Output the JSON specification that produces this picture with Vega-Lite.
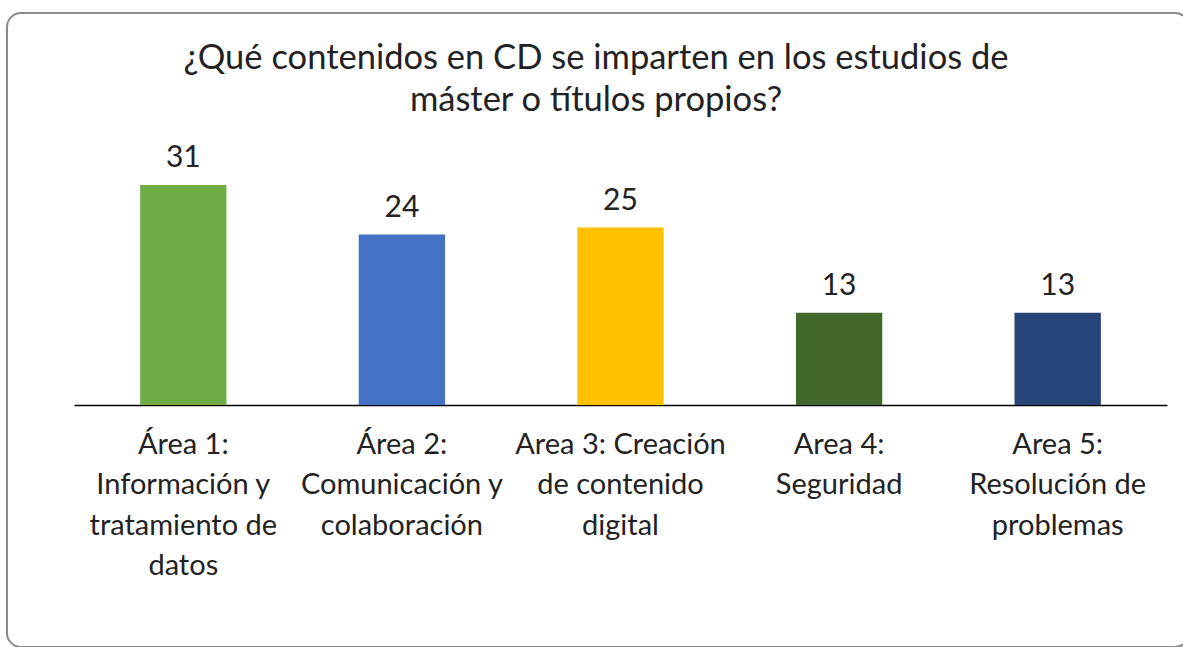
{
  "$schema": "https://vega.github.io/schema/vega-lite/v6.json",
  "width": 1182,
  "height": 634,
  "autosize": "none",
  "padding": {"left": 7, "top": 13, "right": 0, "bottom": 0},
  "background": "white",
  "config": {
    "view": {"stroke": "#8a8a8a", "strokeWidth": 2, "cornerRadius": 14},
    "font": "Lato"
  },
  "title": {
    "text": ["¿Qué contenidos en CD se imparten en los estudios de", "máster o títulos propios?"],
    "font": "Lato",
    "fontSize": 34.5,
    "fontWeight": "normal",
    "color": "#222222",
    "anchor": "middle",
    "frame": "group",
    "baseline": "top",
    "offset": 0,
    "dy": 105,
    "dx": -2,
    "lineHeight": 42
  },
  "data": {
    "values": [
      {"area": "Área 1:|Información y|tratamiento de|datos", "valor": 31},
      {"area": "Área 2:|Comunicación y|colaboración", "valor": 24},
      {"area": "Area 3: Creación|de contenido|digital", "valor": 25},
      {"area": "Area 4:|Seguridad", "valor": 13},
      {"area": "Area 5:|Resolución de|problemas", "valor": 13}
    ]
  },
  "encoding": {
    "x": {
      "field": "area",
      "type": "nominal",
      "sort": null,
      "scale": {"range": [67, 1160], "paddingInner": 0.605, "paddingOuter": 0.3025},
      "axis": {
        "title": null,
        "offset": -242,
        "domainColor": "#000000",
        "domainWidth": 1.5,
        "ticks": false,
        "labelExpr": "split(datum.value, '|')",
        "labelFont": "Lato",
        "labelFontSize": 29,
        "labelColor": "#222222",
        "labelLineHeight": 40.5,
        "labelPadding": 25,
        "labelAngle": 0,
        "labelLimit": 400,
        "labelOverlap": false
      }
    },
    "y": {
      "field": "valor",
      "type": "quantitative",
      "scale": {"domain": [-34.08, 55.21], "nice": false, "zero": false},
      "axis": null
    }
  },
  "layer": [
    {
      "mark": {"type": "bar"},
      "encoding": {
        "y2": {"datum": 0},
        "color": {
          "field": "area",
          "type": "nominal",
          "sort": null,
          "scale": {"range": ["#70AD47", "#4472C4", "#FFC000", "#43682B", "#264478"]},
          "legend": null
        }
      }
    },
    {
      "mark": {"type": "text", "dy": -18, "baseline": "alphabetic", "fontSize": 30, "font": "Lato", "color": "#222222"},
      "encoding": {
        "text": {"field": "valor", "type": "quantitative"}
      }
    }
  ]
}
